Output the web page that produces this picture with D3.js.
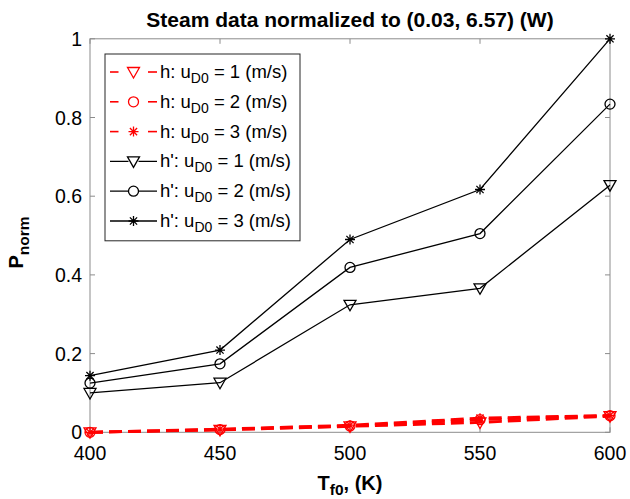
<!DOCTYPE html>
<html>
<head>
<meta charset="utf-8">
<style>
body { margin: 0; background: white; }
text { font-family: "Liberation Sans", Arial, sans-serif; fill: #000; }
.tick { font-size: 19.5px; }
.lab { font-size: 20px; font-weight: bold; }
.leg { font-size: 18.5px; }
</style>
<script src="https://d3js.org/d3.v7.min.js"></script>
</head>
<body>
<div id="chart"></div>
<script>
var temps = [400, 450, 500, 550, 600];
var xTicks = [400, 450, 500, 550, 600];
var yTicks = [0, 0.2, 0.4, 0.6, 0.8, 1];
var yTickLabels = ["0", "0.2", "0.4", "0.6", "0.8", "1"];

// h (red dashed) and h' (black solid), one per u_D0
var h1 = [0, 0.006, 0.015, 0.025, 0.041];
var h2 = [0, 0.007, 0.016, 0.032, 0.042];
var h3 = [0, 0.008, 0.018, 0.036, 0.043];
var hp1 = [0.100, 0.126, 0.324, 0.366, 0.628];
var hp2 = [0.125, 0.174, 0.419, 0.505, 0.834];
var hp3 = [0.144, 0.209, 0.490, 0.617, 1.0];

var seriesNames = ["h", "h", "h", "h'", "h'", "h'"];
var seriesU = ["1", "2", "3", "1", "2", "3"];
var seriesMarker = ["tri", "circ", "star", "tri", "circ", "star"];

var W = 630, H = 499;
var pL = 90, pR = 610, pT = 38.8, pB = 432.3;

var svg = d3.select("#chart").append("svg")
    .attr("width", W).attr("height", H)
    .style("background", "white");

var x = d3.scaleLinear().domain([400, 600]).range([pL, pR]);
var y = d3.scaleLinear().domain([0, 1]).range([pB, pT]);

// frame
svg.append("rect")
    .attr("x", pL).attr("y", pT)
    .attr("width", pR - pL).attr("height", pB - pT)
    .attr("fill", "none").attr("stroke", "#8c8c8c").attr("stroke-width", 1);

// ticks inward on all four sides
var tl = 5;
var g = svg.append("g").attr("stroke", "#8c8c8c").attr("stroke-width", 1);
xTicks.forEach(function(t) {
    g.append("line").attr("x1", x(t)).attr("x2", x(t)).attr("y1", pB).attr("y2", pB - tl);
    g.append("line").attr("x1", x(t)).attr("x2", x(t)).attr("y1", pT).attr("y2", pT + tl);
});
yTicks.forEach(function(t) {
    g.append("line").attr("x1", pL).attr("x2", pL + tl).attr("y1", y(t)).attr("y2", y(t));
    g.append("line").attr("x1", pR).attr("x2", pR - tl).attr("y1", y(t)).attr("y2", y(t));
});

svg.selectAll(".xt").data(xTicks).enter().append("text")
    .attr("class", "tick")
    .attr("x", function(d) { return x(d); })
    .attr("y", 460)
    .attr("text-anchor", "middle")
    .text(function(d) { return d; });

svg.selectAll(".yt").data(yTicks).enter().append("text")
    .attr("class", "tick")
    .attr("x", pL - 8)
    .attr("y", function(d) { return y(d) + 7; })
    .attr("text-anchor", "end")
    .text(function(d, i) { return yTickLabels[i]; });

// title
svg.append("text")
    .attr("x", (pL + pR) / 2).attr("y", 27)
    .attr("text-anchor", "middle")
    .style("font-size", "21px").style("font-weight", "bold")
    .text("Steam data normalized to (0.03, 6.57) (W)");

// x label
var xl = svg.append("text").attr("class", "lab")
    .attr("x", (pL + pR) / 2).attr("y", 490)
    .attr("text-anchor", "middle");
xl.append("tspan").text("T");
xl.append("tspan").attr("dy", 5).style("font-size", "15.5px").text("f0");
xl.append("tspan").attr("dy", -5).text(", (K)");

// y label
var yl = svg.append("text").attr("class", "lab")
    .attr("transform", "translate(23," + ((pT + pB) / 2 + 7) + ") rotate(-90)")
    .attr("text-anchor", "middle");
yl.append("tspan").text("P");
yl.append("tspan").attr("dy", 6).style("font-size", "15.5px").text("norm");

// markers
function marker(sel, kind, color) {
    if (kind == "circ") {
        sel.append("circle").attr("r", 5)
            .attr("fill", "none").attr("stroke", color).attr("stroke-width", 1.3);
    } else if (kind == "tri") {
        sel.append("path").attr("d", "M-6,-4.5L6,-4.5L0,6Z")
            .attr("fill", "none").attr("stroke", color).attr("stroke-width", 1.3);
    } else {
        sel.append("path")
            .attr("d", "M-5,0L5,0M0,-5L0,5M-3.6,-3.6L3.6,3.6M-3.6,3.6L3.6,-3.6")
            .attr("fill", "none").attr("stroke", color).attr("stroke-width", 1.3);
    }
}

var allSeries = [h1, h2, h3, hp1, hp2, hp3];
var line = d3.line()
    .x(function(d, i) { return x(temps[i]); })
    .y(function(d) { return y(d); });

allSeries.forEach(function(s, k) {
    var red = k < 3;
    var color = red ? "#ff0000" : "#000000";
    svg.append("path").datum(s)
        .attr("d", line)
        .attr("fill", "none")
        .attr("stroke", color)
        .attr("stroke-width", red ? 2.8 : 1.3)
        .attr("stroke-dasharray", red ? "13,6" : null);
    s.forEach(function(v, i) {
        var m = svg.append("g").attr("transform", "translate(" + x(temps[i]) + "," + y(v) + ")");
        marker(m, seriesMarker[k], color);
    });
});

// legend
var lx = 105, ly = 54, lw = 195, rowH = 29.8;
svg.append("rect")
    .attr("x", lx).attr("y", ly)
    .attr("width", lw).attr("height", rowH * 6 + 8)
    .attr("fill", "white").attr("stroke", "#262626").attr("stroke-width", 1);

seriesNames.forEach(function(nm, k) {
    var red = k < 3;
    var color = red ? "#ff0000" : "#000000";
    var cy = ly + 18 + rowH * k;
    var lg = svg.append("g");
    if (red) {
        lg.append("line").attr("x1", 110).attr("x2", 118.5).attr("y1", cy).attr("y2", cy)
            .attr("stroke", color).attr("stroke-width", 1.6);
        lg.append("line").attr("x1", 148).attr("x2", 157).attr("y1", cy).attr("y2", cy)
            .attr("stroke", color).attr("stroke-width", 1.6);
    } else {
        lg.append("line").attr("x1", 110).attr("x2", 157).attr("y1", cy).attr("y2", cy)
            .attr("stroke", color).attr("stroke-width", 1.3);
    }
    var m = lg.append("g").attr("transform", "translate(133.5," + cy + ")");
    if (seriesMarker[k] == "circ" || seriesMarker[k] == "tri") {
        m.append("rect").attr("x", -5).attr("y", -5).attr("width", 10).attr("height", 10).attr("fill", "white");
    }
    marker(m, seriesMarker[k], color);
    var t = lg.append("text").attr("class", "leg")
        .attr("x", 160).attr("y", cy + 6);
    t.append("tspan").text(nm + ": u");
    t.append("tspan").attr("dy", 5).style("font-size", "14px").text("D0");
    t.append("tspan").attr("dy", -5).text(" = " + seriesU[k] + " (m/s)");
});
</script>
</body>
</html>
